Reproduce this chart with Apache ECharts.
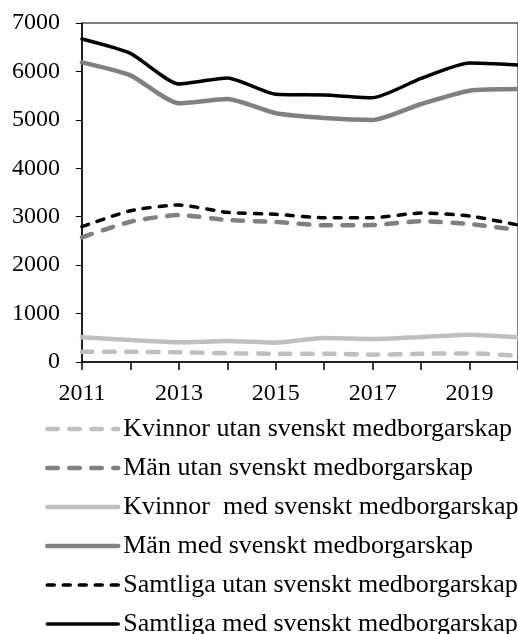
<!DOCTYPE html>
<html>
<head>
<meta charset="utf-8">
<script src="https://cdn.jsdelivr.net/npm/echarts@6/dist/echarts.min.js"></script>
<style>
  html, body { margin: 0; padding: 0; background: #fff; }
  #chart { width: 518px; height: 634px; }
</style>
</head>
<body>
<div id="chart"></div>
<script>
// år och värden
var years = ['2011', '2012', '2013', '2014', '2015', '2016', '2017', '2018', '2019', '2020'];
var kvinnorUtan = [213, 210, 200, 180, 171, 171, 152, 171, 178, 130];
var manUtan = [2575, 2897, 3035, 2932, 2891, 2822, 2829, 2905, 2849, 2726];
var kvinnorMed = [510, 454, 406, 434, 399, 496, 475, 516, 564, 510];
var manMed = [6186, 5918, 5341, 5430, 5135, 5038, 4997, 5327, 5602, 5637];
var samtligaUtan = [2794, 3124, 3242, 3090, 3049, 2980, 2980, 3077, 3015, 2829];
var samtligaMed = [6670, 6374, 5740, 5864, 5527, 5513, 5458, 5857, 6174, 6135];
var yTicks = [0, 1000, 2000, 3000, 4000, 5000, 6000, 7000];

var font = 'Liberation Serif';
var light = '#bfbfbf';
var mid = '#808080';

function line(name, data, color, width, dash) {
  return {
    name: name,
    type: 'line',
    data: data,
    smooth: 0.2,
    symbol: 'none',
    lineStyle: { color: color, width: width, type: dash || 'solid', cap: 'round' },
    itemStyle: { color: color }
  };
}

var series = [
  line('Kvinnor utan svenskt medborgarskap', kvinnorUtan, light, 4.5, [10.5, 11.5]),
  line('Män utan svenskt medborgarskap', manUtan, mid, 4.5, [10.5, 11.5]),
  line('Kvinnor  med svenskt medborgarskap', kvinnorMed, light, 4.5),
  line('Män med svenskt medborgarskap', manMed, mid, 4.5),
  line('Samtliga utan svenskt medborgarskap', samtligaUtan, '#000', 3.5, [7, 9]),
  line('Samtliga med svenskt medborgarskap', samtligaMed, '#000', 3.5)
];

var chart = echarts.init(document.getElementById('chart'));
chart.setOption({
  animation: false,
  textStyle: { fontFamily: font },
  grid: { left: 82, top: 23, right: -3, bottom: 272, show: true, borderColor: '#000', borderWidth: 1 },
  xAxis: {
    type: 'category',
    data: years,
    boundaryGap: false,
    axisLine: { lineStyle: { color: '#000', width: 1.5 } },
    axisTick: { show: true, interval: 0, length: 8, lineStyle: { color: '#000', width: 1.5 } },
    axisLabel: { interval: 1, margin: 20, color: '#000', fontFamily: font, fontSize: 24 },
    splitLine: { show: false }
  },
  yAxis: {
    type: 'value',
    min: yTicks[0],
    max: yTicks[yTicks.length - 1],
    interval: 1000,
    axisLine: { show: true, lineStyle: { color: '#000', width: 1.5 } },
    axisTick: { show: true, length: 6, lineStyle: { color: '#000', width: 1 } },
    axisLabel: {
      margin: 22, color: '#000', fontFamily: font, fontSize: 24,
      formatter: function (v) { return String(v); }
    },
    splitLine: { show: false }
  },
  legend: {
    orient: 'vertical',
    left: 45,
    top: 416,
    height: 260,
    padding: 0,
    itemWidth: 71,
    itemHeight: 14,
    itemGap: 13,
    itemStyle: { color: 'rgba(0,0,0,0)', borderColor: 'rgba(0,0,0,0)', borderWidth: 0, opacity: 0 },
    textStyle: { color: '#000', fontFamily: font, fontSize: 26 },
    data: series.map(function (s) {
      return {
        name: s.name,
        lineStyle: { width: s.lineStyle.width, type: s.lineStyle.type, cap: 'round' }
      };
    })
  },
  series: series
});
</script>
</body>
</html>
